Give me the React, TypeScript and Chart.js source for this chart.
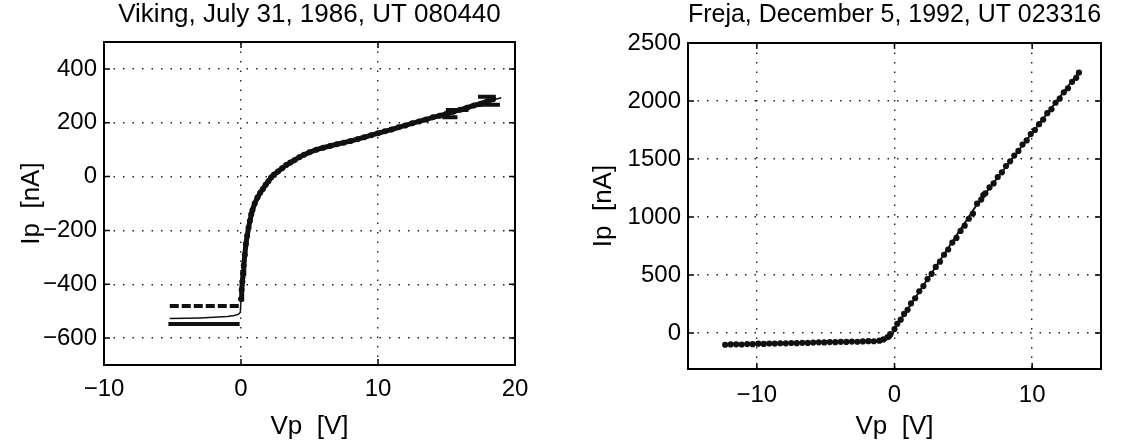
import React, { useEffect, useRef } from "react";
import { Chart, registerables } from "chart.js";

Chart.register(...registerables);

const FONT = "'Liberation Sans', Arial, Helvetica, sans-serif";
const TICK_FS = 24;
const AXIS_FS = 26;
const TITLE_FS = 26;

// ---------------- Viking panel ----------------
const VIKING_TITLE = "Viking, July 31, 1986, UT 080440";
const VIKING_X_TICKS = [-10, 0, 10, 20];
const VIKING_Y_TICKS = [-600, -400, -200, 0, 200, 400];

// measured probe current along the main sweep
const VIKING_V = [0.0, 0.05, 0.1, 0.15, 0.2, 0.28, 0.36, 0.45, 0.55, 0.65, 0.75, 0.84, 1.0, 1.2, 1.4, 1.6, 1.8, 2.0, 2.2, 2.4, 2.7, 3.0, 3.3, 3.6, 3.9, 4.25, 4.6, 5.0, 5.5, 6.0, 6.5, 7.0, 7.5, 8.0, 8.5, 9.0, 9.5, 10.0, 10.5, 11.0, 11.5, 12.0, 12.5, 13.0, 13.5, 14.0, 14.5, 15.0, 15.5, 16.0, 16.5, 17.0, 17.5, 18.0, 18.4];
const VIKING_I = [-455, -420, -390, -360, -330, -290, -250, -220, -190, -165, -140, -124, -100, -78, -60, -46, -30, -17, -3, 7, 19, 31, 43, 52, 61, 72, 81, 90, 100, 107, 114, 120, 126, 132, 139, 146, 154, 161, 168, 175, 183, 190, 198, 205, 212, 220, 226, 233, 241, 248, 256, 264, 271, 280, 287];
// scattered samples beside the steep part
const VIKING_SCAT_V = [0.08, 0.12, 0.18, 0.22, 0.25, 0.3, 0.34];
const VIKING_SCAT_I = [-440, -405, -375, -345, -315, -280, -262];
// model fit
const VIKING_FIT_V = [-5.2, -4, -3, -2, -1, -0.5, -0.2, -0.05, 0, 0.2, 0.5, 1, 1.5, 2, 3, 4, 5, 6, 8, 10, 12, 14, 16, 18, 19];
const VIKING_FIT_I = [-527, -526, -525, -523, -520, -516, -512, -505, -455, -330, -205, -100, -53, -17, 31, 66, 90, 107, 132, 161, 190, 220, 248, 280, 293];
// flat saturation levels for negative potential
const VIKING_SAT1_V = [-5.2, 0.0];
const VIKING_SAT1_I = [-481, -481];
const VIKING_SAT2_V = [-5.3, -0.1];
const VIKING_SAT2_I = [-548, -548];
// quantisation steps at high potential
const VIKING_STEP_V = [14.7, 15.8, null, 14.95, 16.6, null, 17.2, 18.9, null, 17.3, 18.6];
const VIKING_STEP_I = [220, 220, null, 247, 247, null, 267, 267, null, 297, 297];

// ---------------- Freja panel ----------------
const FREJA_TITLE = "Freja, December 5, 1992, UT 023316";
const FREJA_X_TICKS = [-10, 0, 10];
const FREJA_Y_TICKS = [0, 500, 1000, 1500, 2000, 2500];

const FREJA_V = [-12.3, -11.9, -11.5, -11.1, -10.7, -10.3, -9.9, -9.5, -9.1, -8.7, -8.3, -7.9, -7.5, -7.1, -6.7, -6.3, -5.9, -5.5, -5.1, -4.7, -4.3, -3.9, -3.5, -3.1, -2.7, -2.3, -1.9, -1.5, -1.1, -0.8, -0.5, -0.3,
  0.0, 0.2, 0.45, 0.7, 0.95, 1.2, 1.5, 1.8, 2.1, 2.4, 2.7, 3.0, 3.3, 3.6, 3.9, 4.2, 4.5, 4.8, 5.1, 5.4, 5.7, 6.0, 6.3, 6.45, 6.6, 6.9, 7.2, 7.5, 7.8, 8.1, 8.4, 8.7, 9.0, 9.3, 9.6, 9.9, 10.2, 10.5, 10.8, 11.1, 11.4, 11.7, 12.0, 12.3, 12.6, 12.9, 13.2, 13.4];
const FREJA_I = [-101, -98, -97, -99, -95, -96, -92, -94, -90, -91, -88, -89, -86, -87, -84, -85, -82, -80, -81, -78, -79, -76, -77, -74, -75, -72, -70, -71, -66, -55, -35, -10,
  35, 80, 115, 165, 200, 255, 300, 360, 405, 465, 510, 570, 615, 675, 720, 780, 820, 880, 925, 985, 1030, 1115, 1150, 1190, 1205, 1255, 1290, 1345, 1385, 1440, 1480, 1530, 1570, 1625, 1660, 1715, 1750, 1800, 1840, 1895, 1930, 1985, 2020, 2075, 2110, 2165, 2200, 2245];
const FREJA_FIT_V = [-12.3, -1.0, -0.3, 0.2, 6.0, 13.4];
const FREJA_FIT_I = [-100, -68, -45, 70, 1110, 2250];

const X_LABEL = "Vp  [V]";
const Y_LABEL = "Ip  [nA]";

function pts(xs: (number | null)[], ys: (number | null)[]) {
  return xs.map((x, i) => ({ x: x === null ? NaN : x, y: ys[i] === null ? null : ys[i] }));
}

const framePlugin = {
  id: "matlabFrame",
  afterDraw(chart: any) {
    const { ctx, chartArea: a, scales } = chart;
    ctx.save();
    ctx.strokeStyle = "#000";
    ctx.lineWidth = 2;
    ctx.strokeRect(a.left, a.top, a.right - a.left, a.bottom - a.top);
    const tl = 6;
    ctx.lineWidth = 1.5;
    ctx.beginPath();
    scales.x.ticks.forEach((t: any) => {
      const px = scales.x.getPixelForValue(t.value);
      ctx.moveTo(px, a.bottom);
      ctx.lineTo(px, a.bottom - tl);
      ctx.moveTo(px, a.top);
      ctx.lineTo(px, a.top + tl);
    });
    scales.y.ticks.forEach((t: any) => {
      const py = scales.y.getPixelForValue(t.value);
      ctx.moveTo(a.left, py);
      ctx.lineTo(a.left + tl, py);
      ctx.moveTo(a.right, py);
      ctx.lineTo(a.right - tl, py);
    });
    ctx.stroke();
    ctx.restore();
  },
};

function fmt(v: any) {
  return String(v).replace("-", "\u2212");
}

interface PanelSpec {
  title: string;
  datasets: any[];
  xMin: number; xMax: number; yMin: number; yMax: number;
  xTicks: number[]; yTicks: number[];
  yWidth: number; xHeight: number; padRight: number;
  titlePadTop: number; titlePadBottom: number;
  yTitlePad: number; xTickPad: number; yTickPad: number; xTitlePad: number;
}

function makeConfig(s: PanelSpec): any {
  const tickFont = { family: FONT, size: TICK_FS, weight: "normal" as const };
  const axisFont = { family: FONT, size: AXIS_FS, weight: "normal" as const };
  const titleFont = { family: FONT, size: TITLE_FS, weight: "normal" as const };
  const gridCommon = { color: "#222", lineWidth: 1.4, drawTicks: false, tickLength: 0 };
  return {
    type: "scatter",
    data: { datasets: s.datasets },
    options: {
      animation: false,
      responsive: false,
      maintainAspectRatio: false,
      events: [],
      layout: { padding: { left: 0, right: s.padRight, top: 0, bottom: 0 } },
      plugins: {
        legend: { display: false },
        tooltip: { enabled: false },
        title: {
          display: true,
          text: s.title,
          fullSize: false,
          color: "#000",
          font: titleFont,
          padding: { top: s.titlePadTop, bottom: s.titlePadBottom },
        },
      },
      scales: {
        x: {
          type: "linear",
          min: s.xMin,
          max: s.xMax,
          afterBuildTicks: (sc: any) => { sc.ticks = s.xTicks.map((v) => ({ value: v })); },
          afterFit: (sc: any) => { sc.height = s.xHeight; },
          grid: gridCommon,
          border: { display: false, dash: [1.5, 8] },
          ticks: { color: "#000", font: tickFont, padding: s.xTickPad, maxRotation: 0, autoSkip: false, callback: fmt },
          title: { display: true, text: X_LABEL, color: "#000", font: axisFont, padding: { top: 0, bottom: s.xTitlePad } },
        },
        y: {
          type: "linear",
          min: s.yMin,
          max: s.yMax,
          afterBuildTicks: (sc: any) => { sc.ticks = s.yTicks.map((v) => ({ value: v })); },
          afterFit: (sc: any) => { sc.width = s.yWidth; },
          grid: gridCommon,
          border: { display: false, dash: [1.5, 8] },
          ticks: { color: "#000", font: tickFont, padding: s.yTickPad, autoSkip: false, callback: fmt },
          title: { display: true, text: Y_LABEL, color: "#000", font: axisFont, padding: { top: s.yTitlePad, bottom: 0 } },
        },
      },
    },
    plugins: [framePlugin],
  };
}

const dotSet = (label: string, data: any[], r = 2.5) => ({
  label, data, showLine: false, pointRadius: r, pointBackgroundColor: "#111", pointBorderWidth: 0,
});
const lineSet = (label: string, data: any[], w: number, dash: number[] = []) => ({
  label, data, showLine: true, borderColor: "#111", borderWidth: w, borderDash: dash, pointRadius: 0, spanGaps: false, tension: 0,
});

const VIKING_SPEC: PanelSpec = {
  title: VIKING_TITLE,
  datasets: [
    lineSet("fit", pts(VIKING_FIT_V, VIKING_FIT_I), 1.5),
    lineSet("measured", pts(VIKING_V, VIKING_I), 5),
    dotSet("measured points", pts(VIKING_V, VIKING_I), 3),
    dotSet("scatter", pts(VIKING_SCAT_V, VIKING_SCAT_I), 2),
    lineSet("saturation 1", pts(VIKING_SAT1_V, VIKING_SAT1_I), 4, [9, 3]),
    lineSet("saturation 2", pts(VIKING_SAT2_V, VIKING_SAT2_I), 4),
    lineSet("steps", pts(VIKING_STEP_V, VIKING_STEP_I), 4),
  ],
  xMin: -10, xMax: 20, yMin: -700, yMax: 500,
  xTicks: VIKING_X_TICKS, yTicks: VIKING_Y_TICKS,
  yWidth: 104, xHeight: 75, padRight: 45,
  titlePadTop: -1, titlePadBottom: 11.8,
  yTitlePad: 16, xTickPad: 10, yTickPad: 7, xTitlePad: -2,
};

const FREJA_SPEC: PanelSpec = {
  title: FREJA_TITLE,
  datasets: [
    lineSet("fit", pts(FREJA_FIT_V, FREJA_FIT_I), 2),
    dotSet("measured", pts(FREJA_V, FREJA_I), 3.1),
  ],
  xMin: -15, xMax: 15, yMin: -310, yMax: 2500,
  xTicks: FREJA_X_TICKS, yTicks: FREJA_Y_TICKS,
  yWidth: 128, xHeight: 71, padRight: 28,
  titlePadTop: -1, titlePadBottom: 12.8,
  yTitlePad: 28, xTickPad: 12, yTickPad: 7, xTitlePad: -2,
};

function Panel({ spec, left, width }: { spec: PanelSpec; left: number; width: number }) {
  const ref = useRef<HTMLCanvasElement | null>(null);
  useEffect(() => {
    if (!ref.current) return;
    const chart = new Chart(ref.current, makeConfig(spec));
    return () => chart.destroy();
  }, [spec]);
  return (
    <canvas
      ref={ref}
      width={width}
      height={440}
      style={{ position: "absolute", left, top: 0, width, height: 440, display: "block" }}
    />
  );
}

export default function App() {
  return (
    <div style={{ position: "absolute", left: 0, top: 0, width: 1129, height: 440, overflow: "hidden", background: "#fff" }}>
      <Panel spec={VIKING_SPEC} left={0} width={560} />
      <Panel spec={FREJA_SPEC} left={560} width={569} />
    </div>
  );
}
